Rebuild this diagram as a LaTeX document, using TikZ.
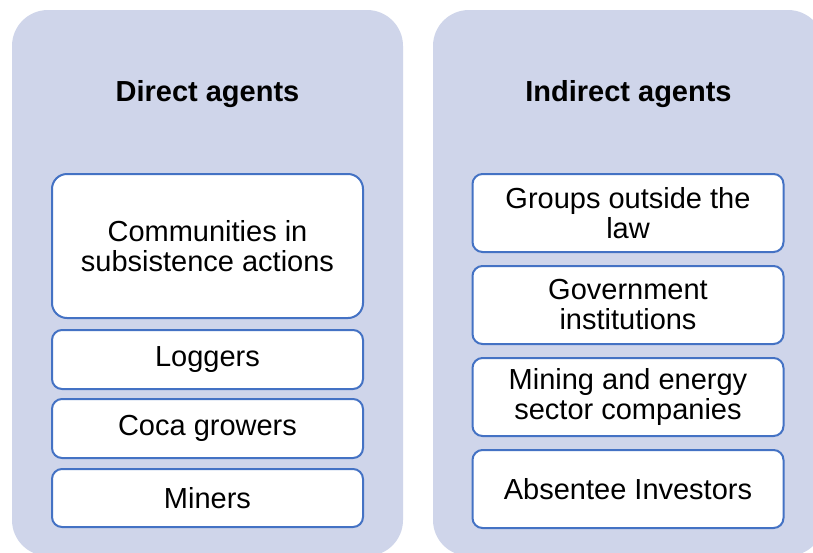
\documentclass[tikz,border=0pt]{standalone}
\usepackage{fontspec}
\setmainfont{Liberation Sans}
\definecolor{panelc}{HTML}{CFD5EA}
\definecolor{boxc}{HTML}{4472C4}
\begin{document}
\begin{tikzpicture}[x=1pt,y=-1pt,
  panel/.style={fill=panelc, draw=none, rounded corners=36pt, minimum width=391pt, minimum height=546pt, inner sep=0pt},
  title/.style={font=\fontsize{29}{30}\selectfont\bfseries, anchor=base},
  agent/.style={draw=boxc, line width=2pt, fill=white, rounded corners=10pt, align=center, inner sep=0pt,
    font=\fontsize{29}{30}\selectfont, minimum width=311pt}]
\useasboundingbox (0,0) rectangle (813,552);
\clip (0,0) rectangle (813,552);
\fill[white] (0,0) rectangle (813,552);
% panels
\node[panel] (dpanel) at (207.5,283) {};
\node[panel] (ipanel) at (628.5,283) {};
\node[title] (dtitle) at (207.5,101) {Direct agents};
\node[title] (ititle) at (628.5,101) {Indirect agents};
% direct agents
\node[agent, rounded corners=15pt, minimum height=144pt] (comm) at (207.5,246) {Communities in\\subsistence actions};
\node[agent, minimum height=59pt] (log) at (207.5,359.5) {Loggers};
\node[agent, minimum height=59pt] (coca) at (207.5,428.5) {Coca growers};
\node[agent, minimum height=58pt] (min) at (207.5,498) {Miners};
% indirect agents
\node[agent, minimum height=78pt] (grp) at (628,213) {Groups outside the\\law};
\node[agent, minimum height=78pt] (gov) at (628,305) {Government\\institutions};
\node[agent, minimum height=78pt] (mine) at (628,397) {Mining and energy\\sector companies};
\node[agent, minimum height=78pt] (abs) at (628,489) {Absentee Investors};
\end{tikzpicture}
\end{document}
